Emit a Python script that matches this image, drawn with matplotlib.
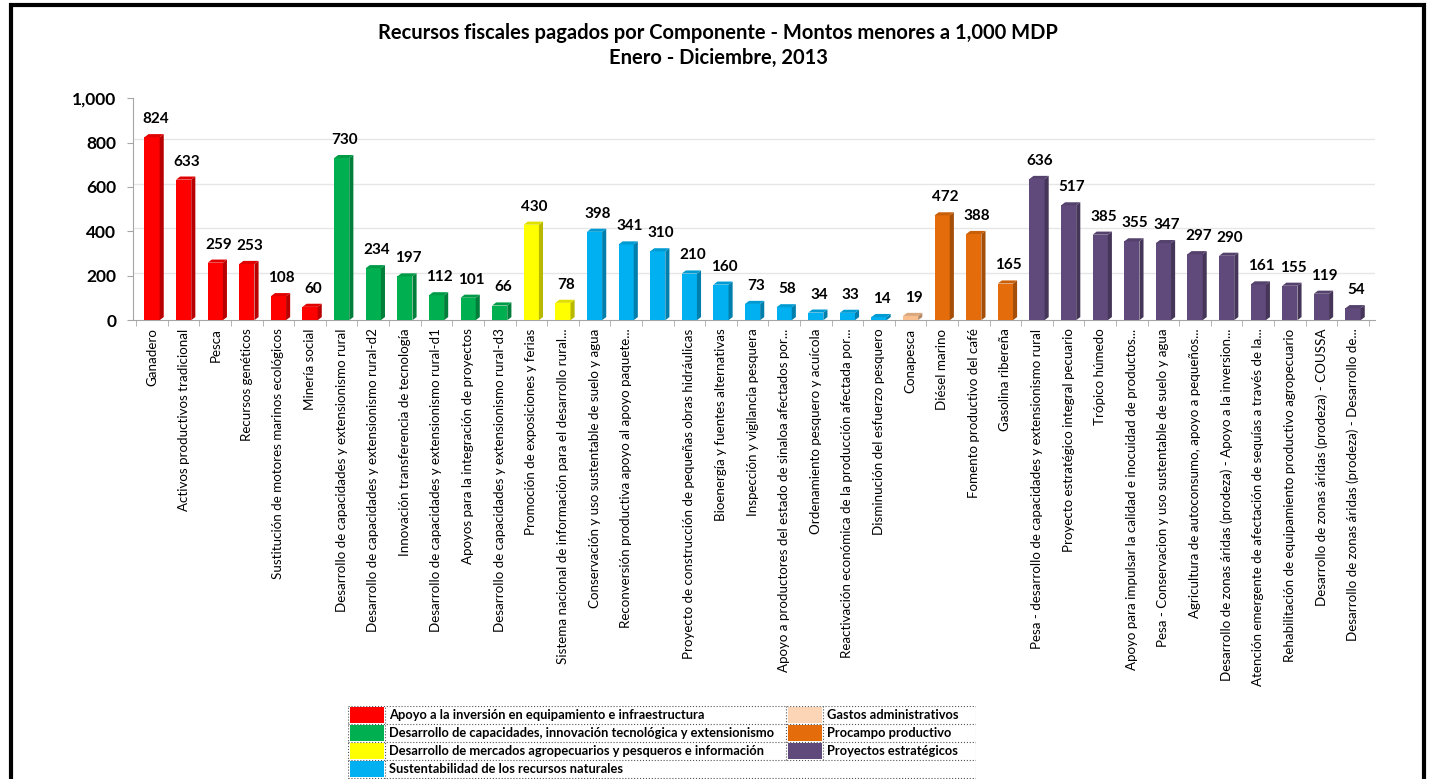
import matplotlib
matplotlib.use("Agg")
import matplotlib.pyplot as plt
from matplotlib.patches import Rectangle, Polygon
import matplotlib.colors as mcolors

plt.rcParams['font.family'] = ['Lato', 'DejaVu Sans']

# datos
componentes = [
    "Ganadero", "Activos productivos tradicional", "Pesca", "Recursos genéticos",
    "Sustitución de motores marinos ecológicos", "Minería social",
    "Desarrollo de capacidades y extensionismo rural",
    "Desarrollo de capacidades y extensionismo rural-d2",
    "Innovación transferencia de tecnología",
    "Desarrollo de capacidades y extensionismo rural-d1",
    "Apoyos para la integración de proyectos",
    "Desarrollo de capacidades y extensionismo rural-d3",
    "Promoción de exposiciones y ferias",
    "Sistema nacional de información para el desarrollo rural...",
    "Conservación y uso sustentable de suelo y agua",
    "Reconversión productiva apoyo al apoyo paquete...",
    "",
    "Proyecto de construcción de pequeñas obras hidráulicas",
    "Bioenergía y fuentes alternativas",
    "Inspección y vigilancia pesquera",
    "Apoyo a productores del estado de sinaloa afectados por...",
    "Ordenamiento pesquero y acuícola",
    "Reactivación económica de la producción afectada por...",
    "Disminución del esfuerzo pesquero",
    "Conapesca",
    "Diésel marino", "Fomento productivo del café", "Gasolina ribereña",
    "Pesa - desarrollo de capacidades y extensionismo rural",
    "Proyecto estratégico integral pecuario",
    "Trópico húmedo",
    "Apoyo para impulsar la calidad e inocuidad de productos...",
    "Pesa - Conservacion y uso sustentable de suelo y agua",
    "Agricultura de autoconsumo, apoyo a pequeños...",
    "Desarrollo de zonas áridas (prodeza) - Apoyo a la inversion...",
    "Atención emergente de afectación de sequías a través de la...",
    "Rehabilitación de equipamiento productivo agropecuario",
    "Desarrollo de zonas áridas (prodeza) - COUSSA",
    "Desarrollo de zonas áridas (prodeza) - Desarrollo de...",
]
montos = [824, 633, 259, 253, 108, 60,
          730, 234, 197, 112, 101, 66,
          430, 78,
          398, 341, 310, 210, 160, 73, 58, 34, 33, 14,
          19,
          472, 388, 165,
          636, 517, 385, 355, 347, 297, 290, 161, 155, 119, 54]
grupo = [0]*6 + [1]*6 + [2]*2 + [3]*10 + [4] + [5]*3 + [6]*11

grupos = ["Apoyo a la inversión en equipamiento e infraestructura",
          "Desarrollo de capacidades, innovación tecnológica y extensionismo",
          "Desarrollo de mercados agropecuarios y pesqueros e información",
          "Sustentabilidad de los recursos naturales",
          "Gastos administrativos",
          "Procampo productivo",
          "Proyectos estratégicos"]
colores = ["#FF0000", "#00B050", "#FFFF00", "#00B0F0", "#F9BE8E", "#E46C0A", "#604A7B"]
colores_leyenda = ["#FF0000", "#00B050", "#FFFF00", "#00B0F0", "#FBD5B5", "#E46C0A", "#604A7B"]


def oscuro(c, f=0.7):
    r, g, b = mcolors.to_rgb(c)
    return (r*f, g*f, b*f)


fig = plt.figure(figsize=(14.31, 7.79), dpi=100)

# marco exterior
fig.patches.append(Rectangle((0.008, -0.05), 0.987, 1.043, transform=fig.transFigure,
                             fill=False, lw=3, ec="black"))

fig.text(0.502, 0.958, "Recursos fiscales pagados por Componente - Montos menores a 1,000 MDP",
         ha="center", va="center", fontsize=14.5, fontweight="bold")
fig.text(0.502, 0.925, "Enero - Diciembre, 2013", ha="center", va="center",
         fontsize=14.5, fontweight="bold")

ax = fig.add_axes([0.093, 0.589, 0.868, 0.285])
x = list(range(len(montos)))
w = 0.48
dx = 0.13
dy = 14
for i, v in enumerate(montos):
    c = colores[grupo[i]]
    ax.add_patch(Rectangle((i - w/2, 0), w, v, fc=c, ec="none", zorder=3))
    ax.add_patch(Polygon([(i + w/2, 0), (i + w/2 + dx, dy), (i + w/2 + dx, v + dy), (i + w/2, v)],
                         closed=True, fc=oscuro(c, 0.72), ec="none", zorder=3))
    ax.add_patch(Polygon([(i - w/2, v), (i - w/2 + dx, v + dy), (i + w/2 + dx, v + dy), (i + w/2, v)],
                         closed=True, fc=oscuro(c, 0.88), ec="none", zorder=3))
    ax.text(i + 0.1, v + 50, f"{v:,}", ha="center", va="bottom", fontsize=11,
            fontweight="bold", zorder=4)

ax.set_xlim(-0.6, len(montos) - 0.3)
ax.set_ylim(0, 1000)
ax.set_yticks([0, 200, 400, 600, 800, 1000])
ax.set_yticklabels([f"{t:,}" for t in [0, 200, 400, 600, 800, 1000]],
                   fontsize=12.5, fontweight="bold")
for t in [200, 400, 600, 800, 1000]:
    ax.plot([-0.6, len(montos) - 0.3], [t + dy, t + dy], color="#E6E6E6", lw=1, zorder=1)
ax.set_xticks(x)
ax.set_xticklabels(componentes, rotation=90, fontsize=9.6)
ax.set_xticks([i + 0.5 for i in range(-1, len(montos))], minor=True)
ax.tick_params(axis="x", which="major", length=0, pad=6)
ax.tick_params(axis="x", which="minor", length=4, color="#A6A6A6")
ax.tick_params(axis="y", length=4, color="#A6A6A6", pad=8)
for s in ["top", "right"]:
    ax.spines[s].set_visible(False)
ax.spines["left"].set_color("#A6A6A6")
ax.spines["bottom"].set_color("#A6A6A6")

# leyenda tipo tabla
lax = fig.add_axes([0.243, 0.0, 0.439, 0.094])
lax.set_xlim(0, 627)
lax.set_ylim(0, 73)
lax.axis("off")
filas = 18
pos = [(0, 0), (0, 1), (0, 2), (0, 3), (1, 0), (1, 1), (1, 2)]
for k, (col, fila) in enumerate(pos):
    x0 = 2 if col == 0 else 439
    y0 = 73 - (fila + 1) * filas
    lax.add_patch(Rectangle((x0, y0 + 1), 34, filas - 2, fc=colores_leyenda[k], ec="none"))
    lax.text(x0 + 39, y0 + filas/2, grupos[k], ha="left", va="center", fontsize=9.3,
             fontweight="bold")
for fila in range(5):
    lax.plot([0, 627], [73 - fila*filas, 73 - fila*filas], ls=":", color="#555555", lw=0.8)
for xv in [0, 37, 627]:
    lax.plot([xv, xv], [0, 73], ls=":", color="#555555", lw=0.8)
for xv in [437, 474]:
    lax.plot([xv, xv], [73 - 3*filas, 73], ls=":", color="#555555", lw=0.8)

fig.savefig("out.png", dpi=100)
